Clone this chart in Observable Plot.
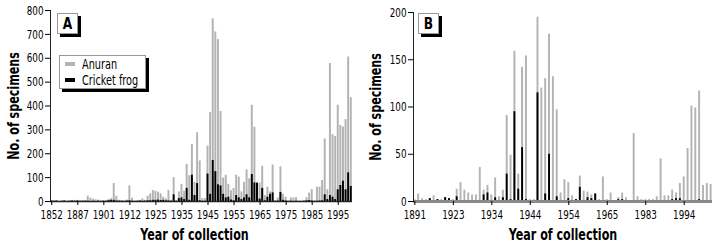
<!DOCTYPE html>
<html><head><meta charset="utf-8">
<script src="https://cdn.jsdelivr.net/npm/d3@7"></script>
<script src="https://cdn.jsdelivr.net/npm/@observablehq/plot@0.6"></script>
<style>
body{margin:0;background:#fff;}
#wrap{position:relative;width:716px;height:246px;font-family:"DejaVu Sans Condensed","DejaVu Sans",sans-serif;font-stretch:condensed;color:#000;}
.panel{position:absolute;top:0;width:358px;height:246px;}
.box{position:absolute;background:#fff;border:1px solid #999;box-shadow:3px 3px 0 #000;box-sizing:border-box;}
.lab{font-weight:bold;font-size:16px;text-align:center;line-height:19px;}
.lab span{display:inline-block;transform:scaleX(0.85);}
.leg{font-size:13.5px;}
.leg .row{position:absolute;left:5px;height:14px;line-height:14px;white-space:nowrap;}
.leg .sw{display:inline-block;width:10px;height:4px;vertical-align:middle;margin-right:7px;position:relative;top:-1px;}
.leg .tx{display:inline-block;transform:scaleX(0.8);transform-origin:left center;}
</style></head>
<body>
<div id="wrap">
  <div class="panel" id="pA" style="left:0"></div>
  <div class="panel" id="pB" style="left:358px"></div>
</div>
<script>
// ---------- Panel A data ----------
const yearsA = [1852,1858,1862,1866,1870,1873,1876,1879,1882,1885,
  1887,1888,1889,1890,1891,1892,1893,1895,1897,1899,
  1901,1902,1903,1904,1905,1906,1907,1908,1909,1910,
  1912,1913,1914,1915,1917,1919,1920,1922,1923,1924,
  1925,1926,1927,1928,1929,1930,1931,1932,1933,1934,
  1935,1936,1937,1938,1939,1940,1941,1942,1943,1944,
  1945,1946,1947,1948,1949,1950,1951,1952,1953,1954,
  1955,1956,1957,1958,1959,1960,1961,1962,1963,1964,
  1965,1966,1967,1968,1969,1970,1971,1972,1973,1974,
  1975,1976,1977,1978,1979,1980,1981,1982,1983,1984,
  1985,1986,1987,1988,1989,1990,1991,1992,1993,1994,
  1995,1996,1997,1998,1999,2000];
const anuranA = [3,2,4,1,2,3,2,3,4,3,
  5,2,3,4,22,14,10,7,6,3,
  3,2,8,12,75,22,5,4,3,6,
  65,14,3,2,5,11,5,22,32,46,
  43,39,32,18,11,46,5,100,3,40,
  72,43,155,108,238,80,288,170,12,12,
  232,372,765,710,678,377,98,110,72,45,
  55,110,102,40,80,132,95,403,311,81,
  77,147,25,60,40,153,3,15,145,30,
  18,3,15,15,16,2,2,2,15,35,
  50,3,60,60,88,262,49,578,280,272,
  403,318,312,343,605,435];
const cricketA = [2,1,2,0,1,2,0,1,2,1,
  2,1,1,1,1,0,1,0,1,0,
  1,1,4,5,5,2,1,1,0,2,
  3,1,0,1,2,1,1,3,3,5,
  5,6,4,5,3,2,1,28,1,12,
  15,8,55,5,110,25,75,3,1,1,
  115,30,172,125,70,65,30,15,18,6,
  3,25,15,8,15,28,15,113,78,76,
  10,55,3,18,30,36,1,2,38,5,
  2,0,1,0,1,0,0,1,3,4,
  2,0,1,2,3,28,8,25,18,8,
  49,67,85,49,120,63];
const ticksA = [1852,1887,1901,1912,1925,1935,1945,1955,1965,1975,1985,1995];
const yTicksA = [0,100,200,300,400,500,600,700,800];

// ---------- Panel B data ----------
const yearsB = [1891,1894,1897,1900,1903,1906,1910,1914,1917,1920,
  1923,1924,1925,1926,1927,1928,1929,1930,1931,1932,
  1934,1935,1936,1937,1938,1939,1940,1941,1942,1943,
  1944,1945,1946,1947,1948,1949,1950,1951,1952,1953,
  1954,1955,1956,1957,1958,1959,1960,1961,1962,1963,
  1965,1966,1967,1968,1969,1970,1972,1975,1978,1980,
  1983,1984,1985,1986,1987,1988,1989,1990,1991,1992,
  1994,1995,1996,1997,1998,1999,2000,2001];
const anuranB = [2,8,3,2,3,6,2,2,4,3,
  2,13,20,12,9,7,7,36,12,17,
  7,25,5,12,91,49,159,29,142,154,
  2,2,195,120,130,177,132,97,9,23,
  20,6,2,27,11,10,7,8,2,26,
  2,9,1,4,9,4,1,72,5,2,
  2,2,2,5,45,6,6,12,9,19,
  26,56,101,99,117,17,19,18];
const cricketB = [0,0,0,0,3,0,2,1,4,3,
  0,5,1,0,1,0,0,0,7,9,
  0,4,0,4,29,2,95,13,57,2,
  0,0,115,0,8,50,0,5,0,0,
  3,0,2,15,0,4,3,8,0,0,
  0,0,0,2,2,0,0,0,0,0,
  0,0,0,0,0,0,0,2,3,3,
  0,0,0,0,2,0,0,0];
const ticksB = [1891,1923,1934,1944,1954,1965,1983,1994];
const yTicksB = [0,50,100,150,200];

const FONT = '"DejaVu Sans Condensed","DejaVu Sans",sans-serif';

function makePanel(years, anuran, cricket, ticks, yTicks, o) {
  const rows = years.map((y, i) => ({year: String(y), anuran: anuran[i], cricket: cricket[i]}));
  return Plot.plot({
    width: 358, height: 246,
    marginLeft: o.ml, marginRight: o.mr, marginTop: o.mt, marginBottom: 45,
    style: {fontFamily: FONT, fontSize: "13px", color: "#000", background: "transparent", overflow: "visible"},
    x: {type: "band", domain: years.map(String), paddingInner: o.pad, paddingOuter: 0.1, axis: null},
    y: {domain: [0, yTicks[yTicks.length - 1]], axis: null},
    marks: [
      Plot.barY(rows, {x: "year", y: "anuran", fill: "#b3b3b3"}),
      Plot.barY(rows, {x: "year", y: "cricket", fill: "#000"}),
      Plot.ruleY([0], {stroke: o.base, strokeWidth: o.baseW}),
      Plot.frame({anchor: "left", stroke: "#222"}),
      Plot.axisY({ticks: yTicks, tickSize: 5, tickPadding: 2, label: null, fontSize: 13}),
      Plot.axisX({ticks: ticks.map(String), tickSize: 4, tickPadding: 4, label: null, fontSize: 13}),
      Plot.text(["Year of collection"], {frameAnchor: "bottom", dx: o.tdx, dy: 33, lineAnchor: "middle", textAnchor: "middle", fontWeight: "bold", fontSize: 16.5}),
      Plot.text(["No. of specimens"], {frameAnchor: "left", dx: o.ydx, rotate: -90, lineAnchor: "middle", textAnchor: "middle", fontWeight: "bold", fontSize: 16.5})
    ]
  });
}

// squeeze svg texts horizontally about their anchor (narrow typeface look), keeping real text
function narrow(svg, k) {
  svg.querySelectorAll("text").forEach(t => {
    let tr = t.getAttribute("transform");
    if (!tr) {
      const x = +(t.getAttribute("x") || 0), y = +(t.getAttribute("y") || 0);
      t.removeAttribute("x"); t.removeAttribute("y");
      tr = `translate(${x},${y})`;
    }
    t.setAttribute("transform", `${tr} scale(${k},1)`);
  });
}

const pA = document.getElementById("pA");
const svgA = makePanel(yearsA, anuranA, cricketA, ticksA, yTicksA,
  {ml: 50, mr: 6, mt: 10, pad: 0.25, base: "#222", baseW: 1.5, tdx: -7, ydx: -37});
pA.appendChild(svgA);
narrow(svgA, 0.75);
const pB = document.getElementById("pB");
const svgB = makePanel(yearsB, anuranB, cricketB, ticksB, yTicksB,
  {ml: 55, mr: 4, mt: 12, pad: 0.5, base: "#8a8a8a", baseW: 3, tdx: 0, ydx: -38});
pB.appendChild(svgB);
narrow(svgB, 0.75);

// panel labels
function labelBox(parent, text, left) {
  const d = document.createElement("div");
  d.className = "box lab";
  d.style.left = left + "px"; d.style.top = "13px";
  d.style.width = "21px"; d.style.height = "21px";
  const s = document.createElement("span");
  s.textContent = text;
  d.appendChild(s);
  parent.appendChild(d);
}
labelBox(pA, "A", 57);
labelBox(pB, "B", 60);

// legend in panel A
const leg = document.createElement("div");
leg.className = "box leg";
leg.style.left = "59px"; leg.style.top = "55px"; leg.style.width = "87px"; leg.style.height = "34px";
const items = [{name: "Anuran", color: "#b3b3b3"}, {name: "Cricket frog", color: "#000"}];
items.forEach((it, i) => {
  const r = document.createElement("div");
  r.className = "row";
  r.style.top = (1 + i * 16) + "px";
  const s = document.createElement("span");
  s.className = "sw"; s.style.background = it.color;
  r.appendChild(s);
  const t = document.createElement("span");
  t.className = "tx"; t.textContent = it.name;
  r.appendChild(t);
  leg.appendChild(r);
});
pA.appendChild(leg);
</script>
</body></html>
